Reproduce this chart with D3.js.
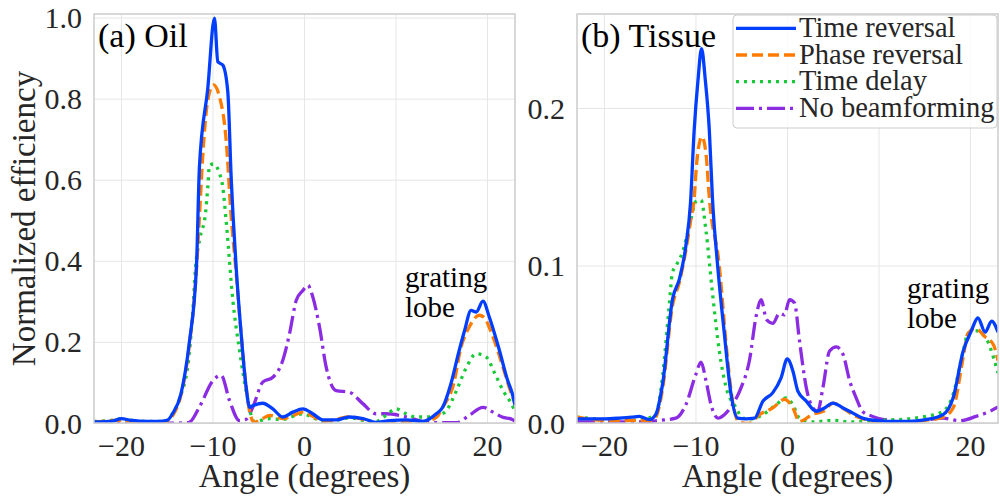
<!DOCTYPE html>
<html>
<head>
<meta charset="utf-8">
<script src="https://cdn.jsdelivr.net/npm/d3@7"></script>
<style>
  body { margin: 0; background: #fff; }
  text { font-family: "Liberation Serif", "Times New Roman", serif; fill: #262626; }
</style>
</head>
<body>
<svg id="chart" width="1000" height="497"></svg>
<script>
// series names / colours (seaborn "bright")
var seriesNames = ["Time reversal", "Phase reversal", "Time delay", "No beamforming"];
var seriesColors = ["#023eff", "#ff7c00", "#1ac938", "#8b2be2"];
var seriesDash = [null, "11,5", "3,5", "18,5,3,5"];

var xTicks = [-20, -10, 0, 10, 20];
var oilYTicks = [0, 0.2, 0.4, 0.6, 0.8, 1.0];
var tissueYTicks = [0, 0.1, 0.2];

// (a) Oil  -- [angle, efficiency]
var oilTimeReversal = [[-23,0.004],[-21,0.006],[-20,0.012],[-19,0.008],[-18,0.006],[-16,0.005],[-15,0.008],[-14.4,0.025],[-13.5,0.073],[-12.6,0.197],[-11.8,0.39],[-11.48,0.633],[-10.57,0.826],[-9.84,1.0],[-9.47,0.892],[-8.93,0.884],[-8.38,0.818],[-8.0,0.6],[-7.8,0.51],[-7.47,0.386],[-6.92,0.221],[-6.38,0.09],[-6.0,0.04],[-5.65,0.044],[-4.56,0.05],[-3.46,0.036],[-2.37,0.016],[-1.28,0.028],[-0.18,0.036],[0.9,0.024],[2.0,0.009],[3.5,0.009],[4.9,0.016],[6.4,0.012],[7.8,0.003],[9.3,0.007],[11.1,0.009],[12.9,0.005],[14.4,0.024],[15.1,0.04],[16.0,0.098],[16.9,0.18],[17.5,0.23],[18.2,0.279],[18.76,0.275],[19.5,0.302],[20.2,0.262],[21.3,0.18],[22.2,0.106],[22.7,0.074],[23,0.045]];
var oilPhaseReversal = [[-23,0.003],[-20,0.008],[-18,0.004],[-16,0.004],[-15,0.006],[-14.4,0.02],[-13.5,0.07],[-12.6,0.19],[-11.8,0.38],[-11.48,0.509],[-11.1,0.666],[-10.57,0.797],[-9.95,0.835],[-9.29,0.806],[-8.56,0.699],[-8.01,0.509],[-7.5,0.38],[-6.92,0.22],[-6.38,0.09],[-6.0,0.03],[-5.5,0.003],[-4.6,0.012],[-3.8,0.02],[-2.4,0.012],[-1.2,0.02],[-0.2,0.028],[0.9,0.018],[2.0,0.005],[3.5,0.01],[4.9,0.017],[6.4,0.01],[7.5,0.002],[9.3,0.004],[11.1,0.005],[13,0.004],[14.4,0.015],[15.1,0.04],[16.3,0.098],[17.1,0.188],[18.0,0.238],[19.1,0.267],[19.6,0.262],[20.6,0.213],[21.9,0.123],[22.5,0.08],[23,0.05]];
var oilTimeDelay = [[-23,0.005],[-21,0.008],[-20,0.012],[-19,0.006],[-18,0.005],[-16,0.005],[-15,0.008],[-14.4,0.025],[-13.5,0.07],[-12.6,0.17],[-12.2,0.279],[-11.9,0.386],[-11.4,0.46],[-10.82,0.518],[-10.57,0.583],[-10.38,0.637],[-9.95,0.64],[-9.29,0.617],[-8.93,0.583],[-8.56,0.5],[-7.83,0.304],[-7.1,0.18],[-6.38,0.081],[-5.5,0.005],[-3.8,0.012],[-2.4,0.01],[-1.2,0.018],[-0.2,0.024],[0.9,0.015],[2.0,0.005],[3.5,0.008],[4.9,0.014],[6.4,0.008],[7.8,0.005],[8.9,0.02],[10.0,0.036],[11.1,0.024],[12.2,0.016],[13.6,0.016],[14.6,0.02],[15.5,0.032],[16.6,0.081],[17.7,0.139],[18.76,0.172],[19.85,0.164],[20.8,0.123],[21.7,0.081],[22.6,0.049],[23,0.03]];
var oilNoBeam = [[-23,0.001],[-14,0.001],[-12.6,0.003],[-11.5,0.04],[-10.0,0.106],[-9.1,0.119],[-8.2,0.057],[-7.1,0.007],[-6.4,0.01],[-5.65,0.04],[-4.56,0.102],[-3.46,0.114],[-2.37,0.156],[-1.64,0.221],[-0.9,0.304],[-0.18,0.328],[0.36,0.341],[0.91,0.312],[1.64,0.238],[2.37,0.139],[3.46,0.081],[4.92,0.077],[6.37,0.049],[7.83,0.024],[8.9,0.024],[10.4,0.02],[11.5,0.014],[13.3,0.003],[14.75,0.002],[16.58,0.002],[18.0,0.02],[19.5,0.04],[20.6,0.028],[21.6,0.016],[22.7,0.01],[23,0.006]];

// (b) Tissue
var tissueTimeReversal = [[-23,0.003],[-20,0.003],[-18.4,0.0034],[-17,0.004],[-16.2,0.0045],[-15.1,0.0024],[-14.4,0.0056],[-13.65,0.025],[-12.56,0.079],[-11.8,0.092],[-11.1,0.113],[-10.6,0.14],[-10.2,0.186],[-9.78,0.218],[-9.39,0.238],[-8.98,0.218],[-8.54,0.186],[-8.2,0.143],[-7.63,0.1],[-6.9,0.057],[-6.17,0.0185],[-5.44,0.0034],[-4.6,0.003],[-3.6,0.0034],[-2.7,0.014],[-1.6,0.0196],[-0.7,0.029],[-0.03,0.041],[0.58,0.0335],[1.13,0.0206],[2.05,0.0142],[3.14,0.0077],[4.05,0.0099],[4.96,0.013],[6.06,0.0099],[7.15,0.0066],[8.2,0.0034],[10.0,0.0017],[11.5,0.0013],[13.3,0.0013],[15.1,0.0024],[17.0,0.0056],[18.1,0.0163],[19.2,0.046],[20.1,0.059],[20.8,0.067],[21.6,0.058],[22.3,0.065],[23,0.058]];
var tissuePhaseReversal = [[-23,0.004],[-20,0.002],[-17,0.002],[-15,0.002],[-14.4,0.004],[-13.65,0.022],[-12.56,0.075],[-11.8,0.09],[-11.1,0.11],[-10.55,0.13],[-10.2,0.143],[-9.93,0.165],[-9.35,0.182],[-8.9,0.171],[-8.54,0.143],[-7.45,0.1],[-6.7,0.05],[-6.0,0.014],[-5.3,0.001],[-4.2,0],[-3.07,0.0056],[-1.6,0.0099],[-0.33,0.0153],[0.58,0.01],[1.3,0.0013],[2.8,0.006],[3.9,0.0077],[5.0,0.013],[6.0,0.01],[7.1,0.0056],[8.6,0.0024],[10,0.001],[13,0.001],[15,0.002],[17,0.004],[18.1,0.0099],[19.2,0.0421],[19.7,0.057],[20.5,0.0604],[21.6,0.055],[22.5,0.05],[23,0.04]];
var tissueTimeDelay = [[-23,0.004],[-21,0.003],[-19,0.002],[-17,0.002],[-15.5,0.003],[-14.4,0.006],[-13.65,0.03],[-13.0,0.07],[-12.56,0.096],[-12.2,0.1],[-11.46,0.109],[-10.7,0.126],[-10.0,0.141],[-9.45,0.142],[-8.9,0.122],[-8.2,0.083],[-7.45,0.046],[-6.7,0.0228],[-5.6,0.0099],[-4.9,0.0034],[-3.8,0.003],[-2.7,0.0056],[-1.24,0.012],[-0.15,0.0163],[0.58,0.012],[1.3,0.0034],[2.8,0.001],[5.0,0.002],[6.8,0.001],[10,0.002],[13.3,0.003],[15.1,0.0045],[17.0,0.0077],[18.1,0.0185],[19.2,0.046],[19.7,0.057],[20.5,0.059],[21.8,0.053],[22.5,0.042],[23,0.032]];
var tissueNoBeam = [[-23,0.001],[-16,0.001],[-14,0.002],[-12.2,0.0034],[-11.1,0.012],[-10.0,0.0314],[-9.45,0.039],[-8.9,0.027],[-8.36,0.012],[-7.6,0.0034],[-6.9,0.0056],[-6.0,0.012],[-5.07,0.0228],[-4.16,0.04],[-3.43,0.068],[-2.88,0.0787],[-2.3,0.066],[-1.6,0.0636],[-0.88,0.07],[-0.33,0.069],[0.22,0.0787],[0.77,0.0765],[1.3,0.053],[2.05,0.0228],[2.77,0.0099],[3.3,0.0077],[3.87,0.0228],[4.6,0.046],[5.33,0.0486],[6.06,0.044],[6.8,0.027],[7.5,0.0163],[8.2,0.0077],[9.3,0.0045],[11.1,0.002],[13.3,0.001],[17.0,0.0034],[18.8,0.0017],[20.6,0.0045],[22.1,0.0077],[23,0.0105]];

var svg = d3.select("#chart");

var panels = [
  { id: "oil", title: "(a) Oil", left: 94, right: 515, yMax: 1.01, yTicks: oilYTicks,
    series: [oilTimeReversal, oilPhaseReversal, oilTimeDelay, oilNoBeam],
    note: [405, 287] },
  { id: "tissue", title: "(b) Tissue", left: 577, right: 998, yMax: 0.26, yTicks: tissueYTicks,
    series: [tissueTimeReversal, tissuePhaseReversal, tissueTimeDelay, tissueNoBeam],
    note: [907, 298] }
];

var plotTop = 14, plotBottom = 423;

panels.forEach(function(p) {
  var x = d3.scaleLinear().domain([-23, 23]).range([p.left, p.right]);
  var y = d3.scaleLinear().domain([0, p.yMax]).range([plotBottom + 0.5, plotTop]);

  var g = svg.append("g").attr("class", p.id);

  g.append("clipPath").attr("id", "clip-" + p.id)
    .append("rect")
    .attr("x", p.left).attr("y", plotTop)
    .attr("width", p.right - p.left).attr("height", plotBottom - plotTop);

  // grid
  g.selectAll(".vgrid").data(xTicks).enter().append("line")
    .attr("x1", function(d) { return x(d); }).attr("x2", function(d) { return x(d); })
    .attr("y1", plotTop).attr("y2", plotBottom)
    .attr("stroke", "#e6e6e6").attr("stroke-width", 1);
  g.selectAll(".hgrid").data(p.yTicks).enter().append("line")
    .attr("x1", p.left).attr("x2", p.right)
    .attr("y1", function(d) { return y(d); }).attr("y2", function(d) { return y(d); })
    .attr("stroke", "#e6e6e6").attr("stroke-width", 1);

  // curves
  var line = d3.line()
    .x(function(d) { return x(d[0]); })
    .y(function(d) { return y(d[1]); })
    .curve(d3.curveMonotoneX);

  var lines = g.append("g").attr("clip-path", "url(#clip-" + p.id + ")");
  // no beamforming first so the others sit on top
  [3, 2, 1, 0].forEach(function(i) {
    lines.append("path")
      .datum(p.series[i])
      .attr("d", line)
      .attr("fill", "none")
      .attr("stroke", seriesColors[i])
      .attr("stroke-width", 3.3)
      .attr("stroke-dasharray", seriesDash[i]);
  });

  // frame
  g.append("rect")
    .attr("x", p.left).attr("y", plotTop)
    .attr("width", p.right - p.left).attr("height", plotBottom - plotTop)
    .attr("fill", "none").attr("stroke", "#cccccc").attr("stroke-width", 1.5);

  // tick labels
  g.selectAll(".xt").data(xTicks).enter().append("text")
    .attr("x", function(d) { return x(d); })
    .attr("y", 456)
    .attr("text-anchor", "middle")
    .style("font-size", "30px")
    .text(function(d) { return d3.format("d")(d); });

  g.selectAll(".yt").data(p.yTicks).enter().append("text")
    .attr("x", p.left - 12)
    .attr("y", function(d) { return y(d) + 10; })
    .attr("text-anchor", "end")
    .style("font-size", "30px")
    .text(function(d) { return d3.format(".1f")(d); });

  g.append("text")
    .attr("x", (p.left + p.right) / 2).attr("y", 487)
    .attr("text-anchor", "middle")
    .style("font-size", "33px")
    .text("Angle (degrees)");

  g.append("text")
    .attr("x", p.left + 4).attr("y", 47)
    .style("font-size", "34px")
    .style("fill", "#000")
    .text(p.title);

  var note = g.append("text")
    .attr("x", p.note[0]).attr("y", p.note[1])
    .style("font-size", "29px")
    .style("fill", "#000");
  note.append("tspan").attr("x", p.note[0]).text("grating");
  note.append("tspan").attr("x", p.note[0]).attr("dy", 30).text("lobe");
});

// y axis label
svg.append("text")
  .attr("transform", "translate(35," + (plotTop + plotBottom) / 2 + ") rotate(-90)")
  .attr("text-anchor", "middle")
  .style("font-size", "33px")
  .text("Normalized efficiency");

// legend
var legend = svg.append("g").attr("class", "legend");
legend.append("rect")
  .attr("x", 733).attr("y", 15).attr("width", 264).attr("height", 113)
  .attr("rx", 4).attr("ry", 4)
  .attr("fill", "#fff").attr("fill-opacity", 0.8)
  .attr("stroke", "#cccccc").attr("stroke-width", 1);

seriesNames.forEach(function(name, i) {
  var ly = 28.3 + i * 26.7;
  legend.append("line")
    .attr("x1", 736).attr("x2", 796)
    .attr("y1", ly).attr("y2", ly)
    .attr("stroke", seriesColors[i]).attr("stroke-width", 3.3)
    .attr("stroke-dasharray", seriesDash[i]);
  legend.append("text")
    .attr("x", 799).attr("y", ly + 8.7)
    .style("font-size", "28.5px")
    .text(name);
});
</script>
</body>
</html>
